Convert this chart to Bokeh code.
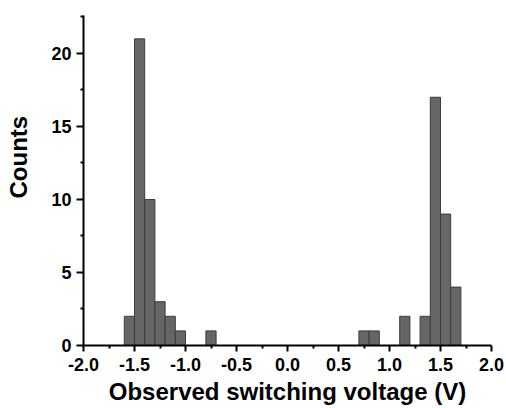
from bokeh.plotting import figure
from bokeh.models import Range1d, FixedTicker
from bokeh.embed import file_html
from bokeh.resources import INLINE

bin_left = [-1.6, -1.5, -1.4, -1.3, -1.2, -1.1, -0.8, 0.7, 0.8, 1.1, 1.3, 1.4, 1.5, 1.6]
counts = [2, 21, 10, 3, 2, 1, 1, 1, 1, 2, 2, 17, 9, 4]
bin_width = 0.1
x_ticks = [-2.0, -1.5, -1.0, -0.5, 0.0, 0.5, 1.0, 1.5, 2.0]
x_minor = [-1.75, -1.25, -0.75, -0.25, 0.25, 0.75, 1.25, 1.75]
y_ticks = [0, 5, 10, 15, 20]
y_minor = [2.5, 7.5, 12.5, 17.5, 22.5]
x_title = "Observed switching voltage (V)"
y_title = "Counts"

p = figure(width=506, height=408, output_backend="svg", toolbar_location=None,
           x_range=Range1d(-2.0, 2.0), y_range=Range1d(0, 22.6),
           min_border_left=83, min_border_right=15, min_border_top=15, min_border_bottom=63)

rights = [b + bin_width for b in bin_left]
p.quad(left=bin_left, right=rights, bottom=0, top=counts,
       fill_color="#666666", line_color="#3c3c3c", line_width=1)

p.grid.visible = False
p.outline_line_color = None

font = "Liberation Sans"
for ax in (p.xaxis[0], p.yaxis[0]):
    ax.axis_line_width = 2
    ax.axis_line_color = "black"
    ax.major_tick_line_width = 2
    ax.minor_tick_line_width = 2
    ax.major_tick_line_color = "black"
    ax.minor_tick_line_color = "black"
    ax.major_tick_out = 6
    ax.major_tick_in = 0
    ax.minor_tick_out = 3
    ax.minor_tick_in = 0
    ax.major_label_text_font = font
    ax.major_label_text_font_style = "bold"
    ax.major_label_text_font_size = "18px"
    ax.major_label_text_color = "black"
    ax.axis_label_text_font = font
    ax.axis_label_text_font_style = "bold"
    ax.axis_label_text_font_size = "24px"
    ax.axis_label_text_color = "black"

p.yaxis[0].major_tick_out = 7
p.xaxis[0].ticker = FixedTicker(ticks=x_ticks, minor_ticks=x_minor)
p.yaxis[0].ticker = FixedTicker(ticks=y_ticks, minor_ticks=y_minor)
p.xaxis[0].major_label_overrides = {t: f"{t:.1f}" for t in x_ticks}
p.xaxis[0].axis_label = x_title
p.yaxis[0].axis_label = "\u00a0" * 7 + y_title
p.xaxis[0].major_label_standoff = 6
p.xaxis[0].axis_label_standoff = 4
p.yaxis[0].major_label_standoff = 5
p.yaxis[0].axis_label_standoff = 16

open("out.html", "w").write(file_html(p, INLINE))
